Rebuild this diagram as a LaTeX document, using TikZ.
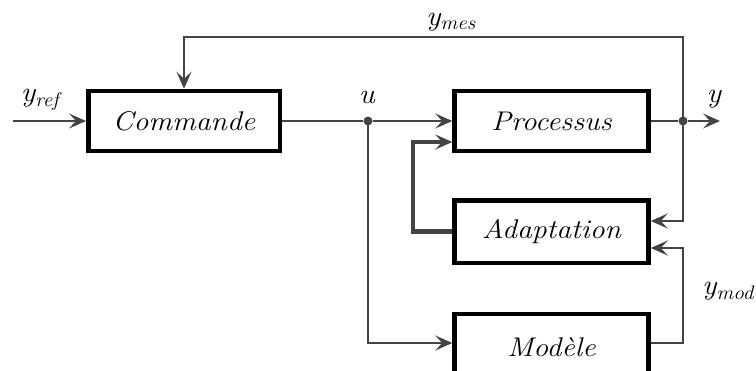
\documentclass[tikz,border=0pt]{standalone}
\usepackage{amsmath,amssymb}
\usepackage{graphicx}
\usepackage{xcolor}
\usepackage{tikz}
\usetikzlibrary{arrows.meta}
\usetikzlibrary{positioning}
\usetikzlibrary{calc}

\definecolor{fil}{RGB}{68,68,68}
\newcommand{\boxtxt}[1]{\scalebox{1.1}[1]{\itshape #1}}
\newcommand{\sigtxt}[2]{\scalebox{1.08}[1]{\itshape #1\textsubscript{#2}}}

\tikzset{
  bloc/.style={draw=black, line width=4.5pt, minimum width=194pt, minimum height=60pt, inner sep=0pt, font=\fontsize{27}{32}\selectfont},
  sig/.style={draw=fil, line width=1.3pt},
  fl/.style={sig, -{Stealth[length=17pt,width=15pt,inset=7pt]}},
  epais/.style={draw=fil, line width=4.5pt, -{Stealth[length=17pt,width=15pt,inset=7pt]}},
  jonction/.style={circle, fill=fil, inner sep=0pt, minimum size=9pt},
  lbl/.style={inner sep=0pt, font=\fontsize{28}{32}\selectfont},
}

\begin{document}
\begin{tikzpicture}[x=1pt,y=1pt,yscale=-1,xscale=1]
\useasboundingbox (0,0) rectangle (756,370);

% Blocs
\node[bloc, minimum width=191.5pt] (cmd) at (184,121) {\boxtxt{Commande}};
\node[bloc] (proc) at (551.5,121) {\boxtxt{Processus}};
\node[bloc, minimum height=62.5pt] (adapt) at (551.5,231.5) {\boxtxt{Adaptation}};
\node[bloc, minimum height=66pt] (mod) at (551.5,347) {\boxtxt{Mod\`ele}};

% Jonctions et points
\coordinate (in) at (13,121);
\node[jonction] (ju) at (368,121) {};
\node[jonction] (jy) at (683,121) {};
\coordinate (out) at (720,121);
\coordinate (hfb) at (683,37);
\coordinate (mr) at (683,343);
\coordinate (ka) at (413,231.5);
\coordinate (kb) at (413,142);

% Liaisons
\draw[fl] (in) -- (cmd.west);
\draw[sig] (cmd.east) -- (ju);
\draw[fl] (ju) -- (proc.west);
\draw[fl] (ju.center) |- ([yshift=-4pt]mod.west);
\draw[sig] (proc.east) -- (jy);
\draw[fl] (jy) -- (out);
\draw[fl] (jy.center) -- (hfb) -| (cmd.north);
\draw[fl] (jy.center) |- ([yshift=-10.5pt]adapt.east);
\draw[fl] ([yshift=-4pt]mod.east) -- (mr) |- ([yshift=16.5pt]adapt.east);
\draw[epais] (adapt.west) -- (ka) -- (kb) -- ([yshift=21pt]proc.west);

% Etiquettes
\node[lbl] (lref) at (40,100) {\sigtxt{y}{ref}};
\node[lbl] (lu) at (367,99) {\sigtxt{u}{}};
\node[lbl] (ly) at (714,99) {\sigtxt{y}{}};
\node[lbl] (lmes) at (451,22) {\sigtxt{y}{mes}};
\node[lbl] (lmod) at (728,291) {\sigtxt{y}{mod}};

\end{tikzpicture}
\end{document}
